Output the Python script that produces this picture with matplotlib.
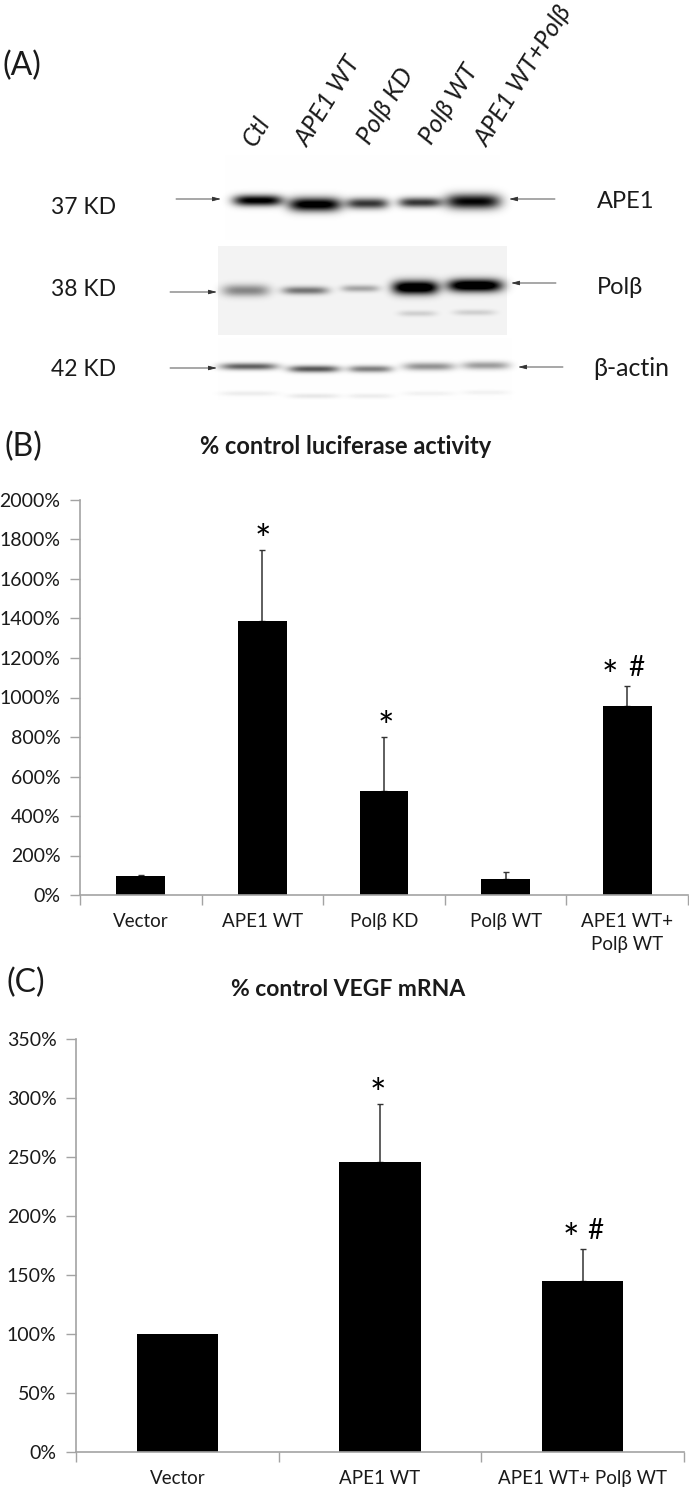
import numpy as np
import matplotlib
matplotlib.use('Agg')
import matplotlib.pyplot as plt

plt.rcParams['font.family'] = ['Lato', 'Noto Sans', 'DejaVu Sans']

W, H = 689, 1490

# panel A: relative band strengths per lane
lanes_a = ['Ctl', 'APE1 WT', 'Polβ KD', 'Polβ WT', 'APE1 WT+Polβ']
ape1_bands = [0.95, 1.0, 0.72, 0.72, 0.9]
polb_bands = [0.36, 0.42, 0.26, 1.0, 1.0]
actin_bands = [0.62, 0.66, 0.5, 0.42, 0.38]
actin_faint = [0.07, 0.09, 0.07, 0.05, 0.05]
polb_faint = [0.0, 0.0, 0.0, 0.14, 0.14]

# panel B
cats_b = ['Vector', 'APE1 WT', 'Polβ KD', 'Polβ WT', 'APE1 WT+\nPolβ WT']
vals_b = [98, 1389, 527, 79, 959]
err_b = [5, 356, 271, 38, 101]
stars_b = [None, 0, 2, None, -17]
hash_b = [None, None, None, None, 9]
ticks_b = list(range(0, 2001, 200))

# panel C
cats_c = ['Vector', 'APE1 WT', 'APE1 WT+ Polβ WT']
vals_c = [100, 246, 145]
err_c = [0, 49, 27]
stars_c = [None, -2, -12]
hash_c = [None, None, 13]
ticks_c = list(range(0, 351, 50))

AXIS = '#a3a3a3'
TEXT = '#1a1a1a'


def px_axes(fig, left, top, right, bottom):
    return fig.add_axes([left / W, 1 - bottom / H, (right - left) / W, (bottom - top) / H])


def add_band(img, x0, x1, y, sy, strength):
    # soft edged band, darkness is added into img
    yy, xx = np.mgrid[0:img.shape[0], 0:img.shape[1]]
    cx = (x0 + x1) / 2
    hw = (x1 - x0) / 2
    prof_x = np.exp(-np.abs((xx - cx) / hw) ** 4)
    prof_y = np.exp(-((yy - y) / sy) ** 2)
    img += strength * prof_x * prof_y


def draw_blot(ax):
    dark = np.zeros((420, W))
    light = np.zeros((420, W))
    light[155:240, 225:500] = 0.004
    light[246:335, 218:507] = 0.045
    light[338:400, 218:512] = 0.004

    x_ape = [(233, 282, 200, 5.5), (288, 341, 204, 7), (346, 388, 203, 5.5), (398, 441, 202, 5), (445, 500, 201, 7.5)]
    for (x0, x1, y, sy), s in zip(x_ape, ape1_bands):
        add_band(dark, x0, x1, y, sy, s * 1.1)
    x_pol = [(222, 269, 290, 6), (282, 328, 290, 4), (341, 379, 288, 3.5), (392, 438, 287, 7), (447, 502, 285, 6.5)]
    for (x0, x1, y, sy), s in zip(x_pol, polb_bands):
        add_band(dark, x0, x1, y, sy, s * 1.2)
    x_sub = [(222, 269, 313), (282, 328, 313), (341, 379, 313), (398, 436, 313), (453, 495, 312)]
    for (x0, x1, y), s in zip(x_sub, polb_faint):
        add_band(dark, x0, x1, y, 3, s)
    x_act = [(220, 277, 366, 3.5), (288, 339, 368.5, 3.5), (348, 392, 368.5, 3.5), (403, 454, 366, 4), (462, 509, 365, 4)]
    for (x0, x1, y, sy), s, f in zip(x_act, actin_bands, actin_faint):
        add_band(dark, x0, x1, y, sy, s)
        add_band(dark, x0, x1, y + 27, 2.5, f)

    img = 1 - np.clip(dark + light, 0, 1)
    ax.imshow(img, cmap='gray', vmin=0, vmax=1, extent=(0, W, 420, 0), interpolation='bilinear', aspect='auto')


def draw_arrow(ax, x0, x1, y):
    ax.annotate('', xy=(x1, y), xytext=(x0, y),
                arrowprops=dict(arrowstyle='-|>,head_length=0.5,head_width=0.13', color='#333333', lw=0.6,
                                shrinkA=0, shrinkB=0))


def bar_panel(ax, cats, vals, err, stars, hashes, ticks, ymax):
    x = np.arange(len(cats)) + 0.5
    ax.bar(x, vals, width=0.4, color='black', zorder=2)
    for xi, v, e in zip(x, vals, err):
        if e > 0:
            ax.errorbar(xi, v, yerr=[[0], [e]], color='#333333', lw=1.1, capsize=2, capthick=1, zorder=1)
    ax.set_xlim(0, len(cats))
    ax.set_ylim(0, ymax)
    ax.set_yticks(ticks)
    ax.set_yticklabels(['%d%%' % t for t in ticks], fontsize=14, color=TEXT)
    ax.set_xticks(np.arange(len(cats) + 1))
    ax.set_xticklabels([])
    ax.set_xticks(x, minor=True)
    ax.set_xticklabels(cats, minor=True, fontsize=13.5, color=TEXT, linespacing=1.45)
    ax.tick_params(axis='x', which='minor', length=0, pad=13)
    ax.tick_params(axis='x', which='major', length=7, color=AXIS, width=1)
    ax.tick_params(axis='y', length=7, color=AXIS, width=1, pad=7)
    for side in ['top', 'right']:
        ax.spines[side].set_visible(False)
    for side in ['left', 'bottom']:
        ax.spines[side].set_color(AXIS)
        ax.spines[side].set_linewidth(1.2)
    ax.patch.set_alpha(0)
    for xi, v, e, s, h in zip(x, vals, err, stars, hashes):
        if s is not None:
            ax.annotate('*', xy=(xi, v + e), xytext=(s, 8), textcoords='offset pixels', ha='center',
                        va='center', fontsize=28, color='black')
        if h is not None:
            ax.annotate('#', xy=(xi, v + e), xytext=(h, 18), textcoords='offset pixels', ha='center',
                        va='center', fontsize=20, color='black')


fig = plt.figure(figsize=(W / 100, H / 100), dpi=100)

page = fig.add_axes([0, 0, 1, 1])
page.set_xlim(0, W)
page.set_ylim(H, 0)
page.axis('off')
draw_blot(page)
page.set_xlim(0, W)
page.set_ylim(H, 0)

for name, x0, y0 in zip(lanes_a, [255, 308, 370, 432, 487], [148, 148, 146, 146, 148]):
    page.text(x0, y0, name, rotation=58, rotation_mode='anchor', ha='left', va='baseline', style='italic',
              fontsize=18, color=TEXT)

for name, y in zip(['37 KD', '38 KD', '42 KD'], [207, 290, 369]):
    page.text(84, y, name, ha='center', va='center', fontsize=16.5, color=TEXT)
for name, x, y, size in zip(['APE1', 'Polβ', 'β-actin'], [597, 597, 593], [201, 288, 369], [17, 17, 18]):
    page.text(x, y, name, ha='left', va='center', fontsize=size, color=TEXT)

draw_arrow(page, 176, 221, 199)
draw_arrow(page, 555, 509, 199)
draw_arrow(page, 170, 217, 292)
draw_arrow(page, 556, 511, 283)
draw_arrow(page, 170, 217, 368)
draw_arrow(page, 563, 518, 367)

for name, x, y in zip(['(A)', '(B)', '(C)'], [3, 4, 7], [66, 447, 983]):
    page.text(x, y, name, ha='left', va='center', fontsize=23, color=TEXT)

page.text(346, 446, '% control luciferase activity', ha='center', va='center', fontsize=17,
          fontweight='bold', color=TEXT)
page.text(348, 990, '% control VEGF mRNA', ha='center', va='center', fontsize=16.5,
          fontweight='bold', color=TEXT)

ax_b = px_axes(fig, 80, 500, 688, 895)
bar_panel(ax_b, cats_b, vals_b, err_b, stars_b, hash_b, ticks_b, 2000)

ax_c = px_axes(fig, 76, 1039, 684, 1452)
bar_panel(ax_c, cats_c, vals_c, err_c, stars_c, hash_c, ticks_c, 350)

fig.savefig('out.png', dpi=100)
